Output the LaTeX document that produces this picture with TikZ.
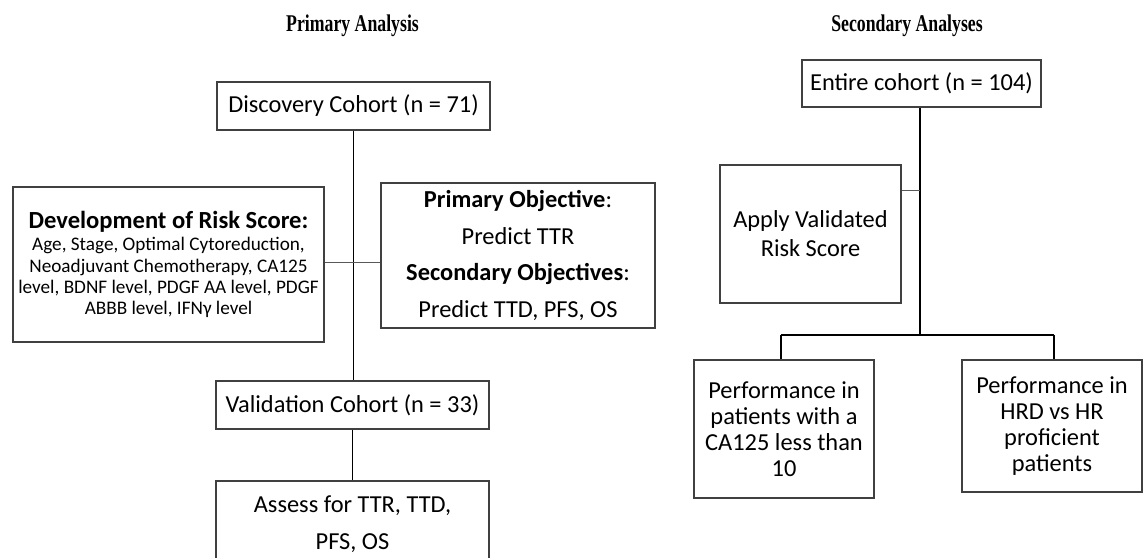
\documentclass[tikz,border=0pt]{standalone}
\usepackage{fontspec}
\setmainfont{Carlito}
\newfontfamily\headfont{Liberation Serif}
\newcommand{\smalltxt}{\fontsize{19.2}{21.3}\selectfont}
\newcommand{\bigbold}{\fontsize{24.6}{26}\selectfont\bfseries}
\begin{document}
\begin{tikzpicture}[x=1pt,y=-1pt,
  box/.style={draw=black!75,line width=1.2pt,fill=white,inner sep=2pt,align=center,
              font=\fontsize{24.4}{29}\selectfont},
  trunk/.style={draw=black,line width=1.8pt},
  stub/.style={draw=black!65,line width=1pt},
  head/.style={font=\headfont\bfseries\fontsize{24}{26}\selectfont,anchor=base}]
\clip (0,0) rectangle (1147,557);
\fill[white] (0,0) rectangle (1147,557);

% section headings
\node[head] (hPrim) at (352.5,31) {\scalebox{0.74}[1]{Primary Analysis}};
\node[head] (hSec)  at (907,31) {\scalebox{0.74}[1]{Secondary Analyses}};

% primary analysis column
\node[box,minimum width=273,minimum height=48] (disc) at (353.5,106) {Discovery Cohort (n = 71)};
\node[box,minimum width=311,minimum height=155,font=\smalltxt] (dev) at (168.5,264.5)
  {{\bigbold Development of Risk Score:}\\[1pt]
   Age, Stage, Optimal Cytoreduction,\\
   Neoadjuvant Chemotherapy, CA125\\
   level, BDNF level, PDGF AA level, PDGF\\
   ABBB level, IFNγ level};
\node[box,minimum width=274,minimum height=145,font=\fontsize{24.4}{36.7}\selectfont] (obj) at (518,255.5)
  {\textbf{Primary Objective}:\\ Predict TTR\\ \textbf{Secondary Objectives}:\\ Predict TTD, PFS, OS};
\node[box,minimum width=273,minimum height=48] (val) at (352.5,405) {Validation Cohort (n = 33)};
\node[box,minimum width=273,minimum height=110,font=\fontsize{24.4}{37}\selectfont] (assess) at (352.5,536)
  {Assess for TTR, TTD,\\ PFS, OS\rule[-26pt]{0pt}{1pt}};

% secondary analyses column
\node[box,minimum width=239,minimum height=47] (all) at (921.5,83.5) {Entire cohort (n = 104)};
\node[box,minimum width=181,minimum height=138] (apply) at (810.5,234)
  {Apply Validated\\ Risk Score};
\node[box,minimum width=180,minimum height=138,font=\fontsize{24.4}{26}\selectfont] (perfA) at (784,429)
  {Performance in\\ patients with a\\ CA125 less than\\ 10};
\node[box,minimum width=180,minimum height=132,font=\fontsize{24.4}{26}\selectfont] (perfB) at (1052,426)
  {Performance in\\ HRD vs HR\\ proficient\\ patients};

% junction points
\coordinate (jDev) at (353,262);
\coordinate (jApply) at (920,190);
\coordinate (bus) at (920,335);
\coordinate (busL) at (781,335);
\coordinate (busR) at (1054,335);

% connectors
\draw[trunk] (disc.south) -- (disc.south |- val.north);
\draw[stub] (dev.east |- jDev) -- (obj.west |- jDev);
\draw[trunk] (val.south) -- (val.south |- assess.north);
\draw[trunk] (all.south -| bus) -- (bus);
\draw[stub] (apply.east |- jApply) -- (jApply);
\draw[trunk] (busL) -- (busR);
\draw[trunk] (busL) -- (busL |- perfA.north);
\draw[trunk] (busR) -- (busR |- perfB.north);
\end{tikzpicture}
\end{document}
